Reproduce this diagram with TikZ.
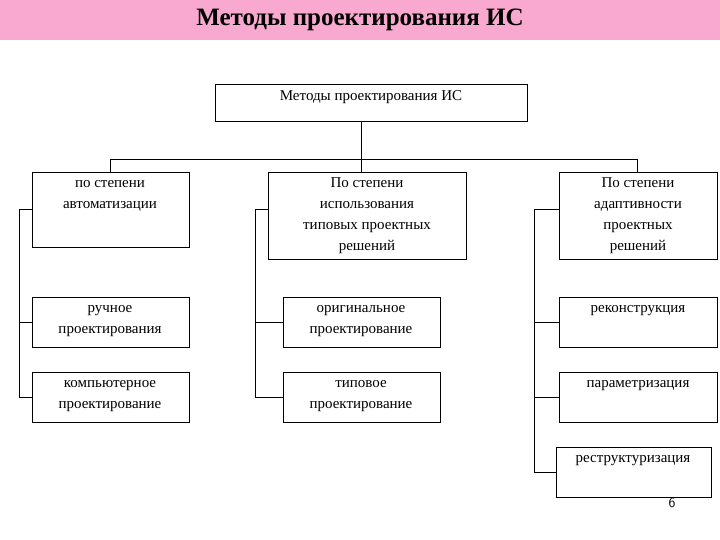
\documentclass[tikz,border=0pt]{standalone}
\usepackage{fontspec}
\setmainfont{Liberation Serif}
\newcommand{\fs}{\vphantom{Пб}}
\begin{document}
\begin{tikzpicture}[x=1pt,y=-1pt,
  bx/.style={draw,line width=0.8pt},
  tx/.style={anchor=north,align=center,font=\fontsize{15}{21}\selectfont},
  ln/.style={line width=0.8pt}]
\useasboundingbox (0,0) rectangle (720,540);
\fill[fill={rgb,255:red,249;green,168;blue,208}] (0,0) rectangle (720,40);
\node (title) at (360,20) {\fontsize{25}{28}\selectfont\bfseries Методы проектирования ИС};
% boxes
\draw[bx] (215,84) rectangle (527,121);
\node[tx] (t0) at (371,86) {\fs Методы проектирования ИС};
\draw[bx] (32,172) rectangle (189,247);
\node[tx] (a1) at (110,173) {\fs по степени\\автоматизации};
\draw[bx] (268,172) rectangle (466,259);
\node[tx] (b1) at (367,173) {\fs По степени\\использования\\типовых проектных\\решений};
\draw[bx] (559,172) rectangle (717,259);
\node[tx] (c1) at (638,173) {\fs По степени\\адаптивности\\проектных\\решений};
\draw[bx] (32,297) rectangle (189,347);
\node[tx] (a2) at (110,298) {\fs ручное\\проектирования};
\draw[bx] (283,297) rectangle (440,347);
\node[tx] (b2) at (361,298) {\fs оригинальное\\проектирование};
\draw[bx] (559,297) rectangle (717,347);
\node[tx] (c2) at (638,298) {\fs реконструкция};
\draw[bx] (32,372) rectangle (189,422);
\node[tx] (a3) at (110,373) {\fs компьютерное\\проектирование};
\draw[bx] (283,372) rectangle (440,422);
\node[tx] (b3) at (361,373) {\fs типовое\\проектирование};
\draw[bx] (559,372) rectangle (717,422);
\node[tx] (c3) at (638,373) {\fs параметризация};
\draw[bx] (556,447) rectangle (711,497);
\node[tx] (c4) at (633,448) {\fs реструктуризация};
\node[font=\fontsize{14}{16}\selectfont\sffamily] (pg) at (672,503) {6};
% connectors
\draw[ln] (361,121) -- (361,172);
\draw[ln] (110,172) -- (110,159) -- (637,159) -- (637,172);
\draw[ln] (32,209) -- (19,209) -- (19,397) -- (32,397);
\draw[ln] (19,322) -- (32,322);
\draw[ln] (268,209) -- (255,209) -- (255,397) -- (283,397);
\draw[ln] (255,322) -- (283,322);
\draw[ln] (559,209) -- (534,209) -- (534,472) -- (556,472);
\draw[ln] (534,322) -- (559,322);
\draw[ln] (534,397) -- (559,397);
\end{tikzpicture}
\end{document}
